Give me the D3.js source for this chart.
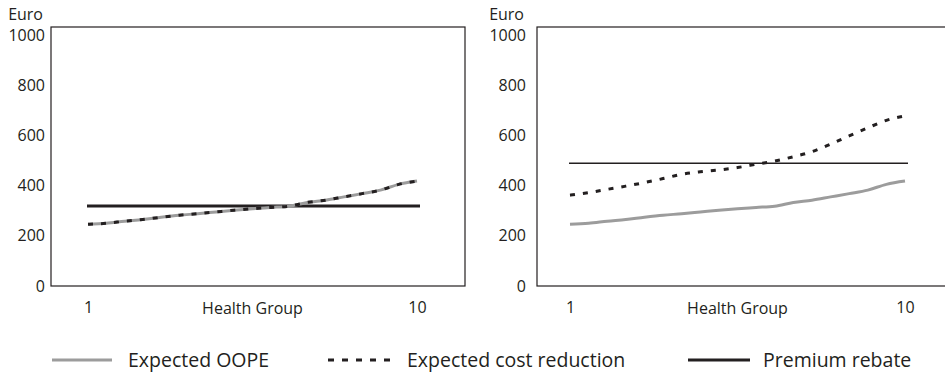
<!DOCTYPE html>
<html>
<head>
<meta charset="utf-8">
<script src="https://cdn.jsdelivr.net/npm/d3@7/dist/d3.min.js"></script>
<style>
  body { margin: 0; background: #fff; }
  text { font-family: "Open Sans", sans-serif; fill: #231f20; }
</style>
</head>
<body>
<svg id="chart" width="945" height="372"></svg>
<script>
// health group positions (read at half steps)
const groups = [1, 1.5, 2, 2.5, 3, 3.5, 4, 4.5, 5, 5.5, 6, 6.5, 7, 7.5, 8, 8.5, 9, 9.5, 10];

// expected out-of-pocket expenditure, same in both panels
const oope = [246, 250, 258, 265, 274, 282, 288, 295, 302, 308, 313, 318, 333, 342, 355, 368, 382, 405, 418];

// expected cost reduction
const costLeft = [246, 250, 258, 265, 274, 282, 288, 295, 302, 308, 313, 318, 333, 342, 355, 368, 382, 405, 418];
const costRight = [362, 372, 385, 398, 412, 428, 445, 455, 462, 472, 485, 498, 515, 535, 565, 598, 630, 660, 678];

// premium rebate
const rebate = [319, 489];

const yTicks = [0, 200, 400, 600, 800, 1000];
const xTicks = [1, 10];
const legendLabels = ["Expected OOPE", "Expected cost reduction", "Premium rebate"];

const svg = d3.select("#chart");

const panels = [
  { boxL: 51, boxR: 465, xL: 88, xR: 417, pad: 6, cost: costLeft, rebate: rebate[0], rebateW: 3 },
  { boxL: 537, boxR: 947, xL: 570, xR: 905, pad: 11, cost: costRight, rebate: rebate[1], rebateW: 1.6 }
];

const frameTop = 27, frameBottom = 286;
const y = d3.scaleLinear().domain([0, 1000]).range([frameBottom, 35]);

panels.forEach(p => {
  const x = d3.scaleLinear().domain([1, 10]).range([p.xL, p.xR]);
  const g = svg.append("g");

  // frame
  g.append("rect")
    .attr("x", p.boxL).attr("y", frameTop)
    .attr("width", p.boxR - p.boxL).attr("height", frameBottom - frameTop)
    .attr("fill", "none").attr("stroke", "#231f20").attr("stroke-width", 1.2);

  // y axis labels
  const ya = g.append("g")
    .attr("transform", `translate(${p.boxL - p.pad},0)`)
    .call(d3.axisLeft(y).tickValues(yTicks).tickSize(0).tickPadding(0).tickFormat(d3.format("d")));
  ya.select(".domain").remove();
  ya.selectAll("text").style("font-size", "16px").attr("fill", "#231f20");

  // x axis labels
  const xa = g.append("g")
    .attr("transform", `translate(0,${frameBottom})`)
    .call(d3.axisBottom(x).tickValues(xTicks).tickSize(0).tickPadding(16));
  xa.select(".domain").remove();
  xa.selectAll("text").style("font-size", "16px").attr("fill", "#231f20");

  g.append("text")
    .attr("x", x(5.5)).attr("y", 313.5)
    .attr("text-anchor", "middle")
    .style("font-size", "16px")
    .text("Health Group");

  g.append("text")
    .attr("x", p.boxL - p.pad - 2).attr("y", 20)
    .attr("text-anchor", "end")
    .style("font-size", "16px")
    .text("Euro");

  const line = d3.line()
    .x((d, i) => x(groups[i]))
    .y(d => y(d))
    .curve(d3.curveMonotoneX);

  // premium rebate
  g.append("line")
    .attr("x1", x(1) - 1).attr("x2", x(10) + 3)
    .attr("y1", y(p.rebate)).attr("y2", y(p.rebate))
    .attr("stroke", "#231f20").attr("stroke-width", p.rebateW);

  // OOPE
  g.append("path")
    .datum(oope)
    .attr("d", line)
    .attr("fill", "none").attr("stroke", "#9c9c9c").attr("stroke-width", 3);

  // cost reduction
  g.append("path")
    .datum(p.cost)
    .attr("d", line)
    .attr("fill", "none").attr("stroke", "#231f20").attr("stroke-width", 3)
    .attr("stroke-dasharray", "5,8");
});

// legend
const legend = [
  { x1: 52, x2: 112, tx: 128, stroke: "#9c9c9c", dash: null },
  { x1: 328, x2: 390, tx: 407, stroke: "#231f20", dash: "6,8" },
  { x1: 688, x2: 750, tx: 763, stroke: "#231f20", dash: null }
];
const lg = svg.append("g");
legend.forEach((l, i) => {
  lg.append("line")
    .attr("x1", l.x1).attr("x2", l.x2)
    .attr("y1", 360).attr("y2", 360)
    .attr("stroke", l.stroke).attr("stroke-width", 3)
    .attr("stroke-dasharray", l.dash);
  lg.append("text")
    .attr("x", l.tx).attr("y", 367)
    .style("font-size", "19.5px")
    .text(legendLabels[i]);
});
</script>
</body>
</html>
